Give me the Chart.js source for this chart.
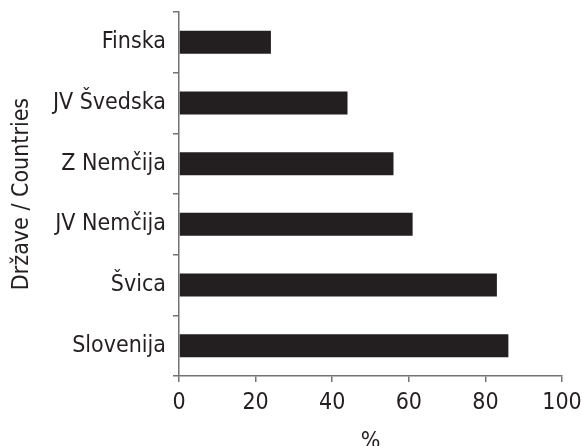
<!DOCTYPE html>
<html>
<head>
<meta charset="utf-8">
<script src="https://cdn.jsdelivr.net/npm/chart.js@4/dist/chart.umd.min.js"></script>
<style>
  html, body { margin: 0; padding: 0; background: #fff; }
  #wrap { width: 582px; height: 446px; }
</style>
</head>
<body>
<div id="wrap"><canvas id="myChart"></canvas></div>
<script>
const countries = ["Finska", "JV Švedska", "Z Nemčija", "JV Nemčija", "Švica", "Slovenija"];
const percents = [24, 44, 56, 61, 83, 86];
const xTicks = [0, 20, 40, 60, 80, 100];

const fontName = "'DejaVu Sans Condensed', 'Liberation Sans', sans-serif";
const axisGrey = "#737373";
const textCol = "#231f20";

new Chart("myChart", {
  type: "bar",
  data: {
    labels: countries,
    datasets: [{
      data: percents,
      backgroundColor: "#231f20",
      barPercentage: 0.38,
      categoryPercentage: 1
    }]
  },
  options: {
    indexAxis: "y",
    responsive: true,
    maintainAspectRatio: false,
    animation: false,
    layout: { padding: { top: 12, left: 0, right: 20, bottom: -10 } },
    plugins: {
      legend: { display: false },
      tooltip: { enabled: false }
    },
    scales: {
      x: {
        min: xTicks[0],
        max: xTicks[xTicks.length - 1],
        afterBuildTicks: axis => { axis.ticks = xTicks.map(v => ({ value: v })); },
        afterFit: axis => { axis.height = 80; axis.paddingLeft = 0; axis.paddingRight = 0; },
        grid: { drawOnChartArea: false, drawTicks: true, tickLength: 6, color: axisGrey, lineWidth: 1.5 },
        border: { display: true, color: axisGrey, width: 1.5 },
        ticks: { color: textCol, font: { family: fontName, size: 23 }, padding: 7 },
        title: { display: true, text: "%", color: textCol, font: { family: fontName, size: 23 }, padding: { top: 0, bottom: 0 } }
      },
      y: {
        afterFit: axis => { axis.width = 179; axis.paddingTop = 0; axis.paddingBottom = 0; },
        grid: { drawOnChartArea: false, drawTicks: true, tickLength: 6, color: axisGrey, lineWidth: 1.5, offset: true },
        border: { display: true, color: axisGrey, width: 1.5 },
        ticks: { color: textCol, font: { family: fontName, size: 23 }, padding: 7 },
        title: { display: true, text: "Države / Countries", color: textCol, font: { family: fontName, size: 23 }, padding: { top: 8, bottom: 0 } }
      }
    }
  }
});
</script>
</body>
</html>
